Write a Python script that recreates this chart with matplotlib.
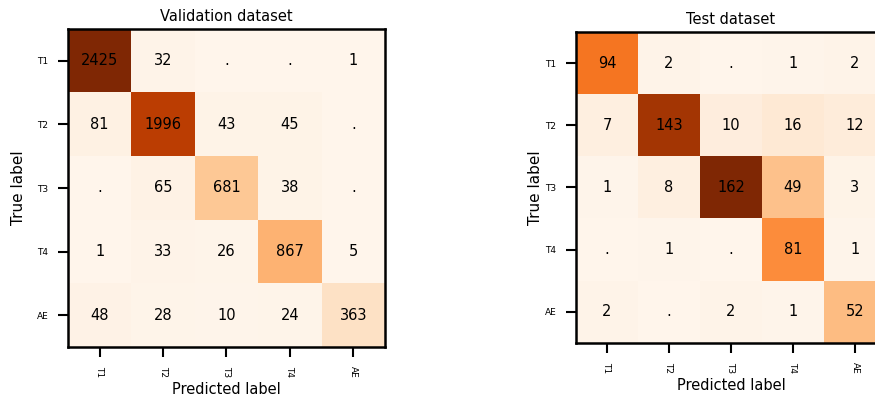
import numpy as np
import matplotlib
matplotlib.use("Agg")
import matplotlib.pyplot as plt

labels = ["T1", "T2", "T3", "T4", "AE"]

# rows = true label, cols = predicted label
val_cm = np.array([
    [2425, 32, 0, 0, 1],
    [81, 1996, 43, 45, 0],
    [0, 65, 681, 38, 0],
    [1, 33, 26, 867, 5],
    [48, 28, 10, 24, 363],
])

test_cm = np.array([
    [94, 2, 0, 1, 2],
    [7, 143, 10, 16, 12],
    [1, 8, 162, 49, 3],
    [0, 1, 0, 81, 1],
    [2, 0, 2, 1, 52],
])


def plot_cm(ax, cm, title, ypad):
    ax.imshow(cm, cmap="Oranges", aspect="auto", interpolation="nearest")
    for i in range(cm.shape[0]):
        for j in range(cm.shape[1]):
            txt = str(cm[i, j]) if cm[i, j] > 0 else "."
            ax.text(j, i, txt, ha="center", va="center", fontsize=10.5, color="black")
    ax.set_xticks(range(len(labels)))
    ax.set_yticks(range(len(labels)))
    ax.set_xticklabels(labels, rotation=-90, fontsize=6.5)
    ax.set_yticklabels(labels, fontsize=6.5)
    ax.tick_params(length=7, width=1.5, pad=7)
    for s in ax.spines.values():
        s.set_linewidth(1.8)
    ax.set_title(title, fontsize=10.5, pad=6)
    ax.set_xlabel("Predicted label", fontsize=10.5, labelpad=3)
    ax.set_ylabel("True label", fontsize=11, labelpad=ypad)


fig = plt.figure(figsize=(8.75, 4.01), dpi=100)
ax1 = fig.add_axes([68 / 875, 54 / 401, 317 / 875, 318 / 401])
ax2 = fig.add_axes([576 / 875, 58 / 401, 310 / 875, 311 / 401])

plot_cm(ax1, val_cm, "Validation dataset", 8)
plot_cm(ax2, test_cm, "Test dataset", 1.5)

fig.savefig("out.png", dpi=100)
